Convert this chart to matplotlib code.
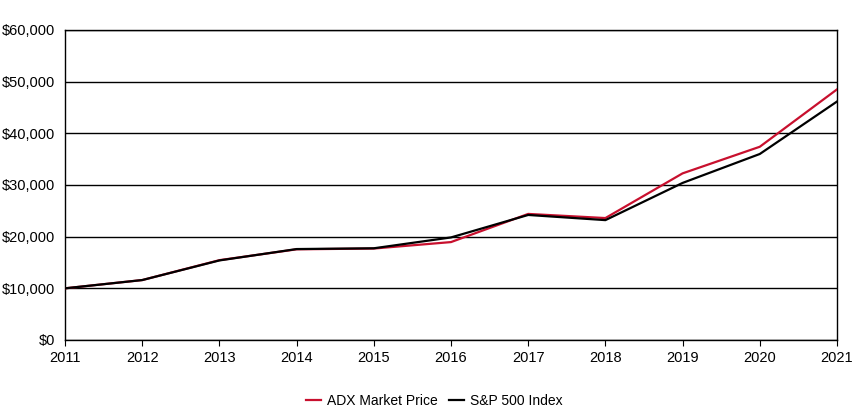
import matplotlib
matplotlib.use("Agg")
import matplotlib.pyplot as plt
from matplotlib.ticker import FuncFormatter

plt.rcParams['font.family'] = ['Liberation Sans', 'DejaVu Sans']

years = [2011, 2012, 2013, 2014, 2015, 2016, 2017, 2018, 2019, 2020, 2021]
adx = [10000, 11600, 15450, 17550, 17700, 18950, 24400, 23600, 32250, 37400, 48500]
sp500 = [10000, 11600, 15400, 17600, 17750, 19850, 24200, 23200, 30400, 36000, 46150]

fig = plt.figure(figsize=(8.58, 4.2), dpi=100)
ax = fig.add_axes([0.0758, 0.1905, 0.8997, 0.7381])

ax.plot(years, adx, color='#C8102E', lw=1.6, label='ADX Market Price', zorder=3)
ax.plot(years, sp500, color='black', lw=1.6, label='S&P 500 Index', zorder=4)

ax.set_xlim(2011, 2021)
ax.set_ylim(0, 60000)
ax.set_xticks(years)
ax.set_yticks(range(0, 60001, 10000))
ax.yaxis.set_major_formatter(FuncFormatter(lambda v, p: '${:,.0f}'.format(v)))
ax.grid(axis='y', color='black', lw=1)
ax.set_axisbelow(True)
ax.tick_params(axis='y', length=0, labelsize=10.5, pad=7)
ax.tick_params(axis='x', length=4, labelsize=10.5, direction='out', pad=4)
for s in ax.spines.values():
    s.set_color('black')
    s.set_linewidth(1)

fig.legend(loc='center', bbox_to_anchor=(0.506, 0.045), ncol=2, frameon=False,
           fontsize=10, handlelength=1.1, handletextpad=0.4, columnspacing=0.8)

fig.savefig('out.png', dpi=100)
